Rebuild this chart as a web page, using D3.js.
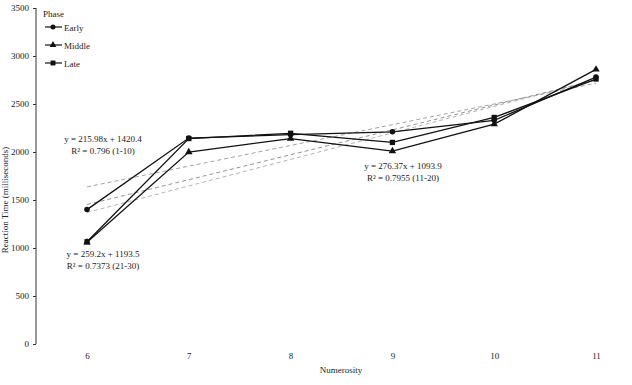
<!DOCTYPE html>
<html>
<head>
<meta charset="utf-8">
<script src="https://cdn.jsdelivr.net/npm/d3@7"></script>
<style>
  body { margin: 0; background: #fff; }
  svg text { font-family: "Liberation Serif", "DejaVu Serif", serif !important; fill: #222; }
</style>
</head>
<body>
<script>
'use strict';

const numerosity = [6, 7, 8, 9, 10, 11];
const early = [1400, 2145, 2180, 2210, 2330, 2780];
const middle = [1060, 2000, 2140, 2010, 2290, 2860];
const late = [1065, 2140, 2195, 2100, 2360, 2760];
const phases = ['Early', 'Middle', 'Late'];
const slopes = [215.98, 276.37, 259.2];
const intercepts = [1420.4, 1093.9, 1193.5];
const yTicks = [0, 500, 1000, 1500, 2000, 2500, 3000, 3500];
const eqLabels = [
  ['y = 215.98x + 1420.4', 'R\u00b2 = 0.796 (1-10)'],
  ['y = 276.37x + 1093.9', 'R\u00b2 = 0.7955 (11-20)'],
  ['y = 259.2x + 1193.5', 'R\u00b2 = 0.7373 (21-30)']
];

const width = 632;
const height = 385;
const serif = '"Liberation Serif", "DejaVu Serif", serif';
const fs = 9;

const svg = d3.select('body')
  .append('svg')
  .attr('width', width)
  .attr('height', height)
  .attr('font-family', serif);

const x = d3.scalePoint()
  .domain(numerosity)
  .range([87, 596]);

const y = d3.scaleLinear()
  .domain([0, 3500])
  .range([344, 8]);

// y axis
const yAxis = d3.axisLeft(y).tickValues(yTicks).tickSize(3).tickFormat(d3.format('d'));
const gy = svg.append('g')
  .attr('transform', 'translate(36,0)')
  .call(yAxis)
  .attr('font-family', serif)
  .attr('font-size', fs);
gy.select('.domain').attr('stroke', '#333').attr('d', 'M0,8V344');
gy.selectAll('.tick line').attr('stroke', '#333');
gy.selectAll('.tick text')
  .attr('x', -7)
  .attr('fill', '#222');

// x labels
const xAxis = d3.axisBottom(x).tickSize(0).tickPadding(9);
const gx = svg.append('g')
  .attr('transform', 'translate(0,344)')
  .call(xAxis)
  .attr('font-family', serif)
  .attr('font-size', fs);
gx.select('.domain').remove();
gx.selectAll('.tick text').attr('fill', '#222');

svg.append('text')
  .attr('x', 341)
  .attr('y', 373)
  .attr('text-anchor', 'middle')
  .attr('font-size', fs)
  .text('Numerosity');

svg.append('text')
  .attr('transform', 'translate(8,' + 200 + ')rotate(-90)')
  .attr('text-anchor', 'middle')
  .attr('font-size', fs)
  .text('Reaction Time (milliseconds)');

// trend lines
const dashColors = ['#999', '#aaa', '#888'];
phases.forEach(function(p, i) {
  const pts = [0, numerosity.length - 1].map(function(k) {
    return [x(numerosity[k]), y(slopes[i] * (k + 1) + intercepts[i])];
  });
  svg.append('path')
    .attr('d', d3.line()(pts))
    .attr('fill', 'none')
    .attr('stroke', dashColors[i])
    .attr('stroke-width', 0.9)
    .attr('stroke-dasharray', '4,3');
});

// series
const series = [early, middle, late];
const symbols = [d3.symbolCircle, d3.symbolTriangle, d3.symbolSquare];
const symSizes = [24, 24, 28];
const line = d3.line()
  .x(function(d, i) { return x(numerosity[i]); })
  .y(function(d) { return y(d); });

series.forEach(function(s, i) {
  svg.append('path')
    .attr('d', line(s))
    .attr('fill', 'none')
    .attr('stroke', '#111')
    .attr('stroke-width', 1.3);
  svg.selectAll('.m' + i)
    .data(s)
    .enter()
    .append('path')
      .attr('class', 'm' + i)
      .attr('transform', function(d, k) { return 'translate(' + x(numerosity[k]) + ',' + y(d) + ')'; })
      .attr('d', d3.symbol().type(symbols[i]).size(symSizes[i]))
      .attr('fill', '#111');
});

// equation labels
const eqPos = [[103, 142], [403, 169], [103, 257]];
eqLabels.forEach(function(lbl, i) {
  lbl.forEach(function(t, j) {
    svg.append('text')
      .attr('x', eqPos[i][0])
      .attr('y', eqPos[i][1] + j * 12)
      .attr('text-anchor', 'middle')
      .attr('font-size', fs)
      .text(t);
  });
});

// legend
svg.append('text')
  .attr('x', 43)
  .attr('y', 17)
  .attr('font-size', fs)
  .text('Phase');

phases.forEach(function(p, i) {
  const ly = 27 + i * 18;
  svg.append('line')
    .attr('x1', 45).attr('x2', 62)
    .attr('y1', ly).attr('y2', ly)
    .attr('stroke', '#111')
    .attr('stroke-width', 1.2);
  svg.append('path')
    .attr('transform', 'translate(53,' + ly + ')')
    .attr('d', d3.symbol().type(symbols[i]).size(symSizes[i] - 4))
    .attr('fill', '#111');
  svg.append('text')
    .attr('x', 64)
    .attr('y', ly + 3.5)
    .attr('font-size', fs)
    .text(p);
});
</script>
</body>
</html>
